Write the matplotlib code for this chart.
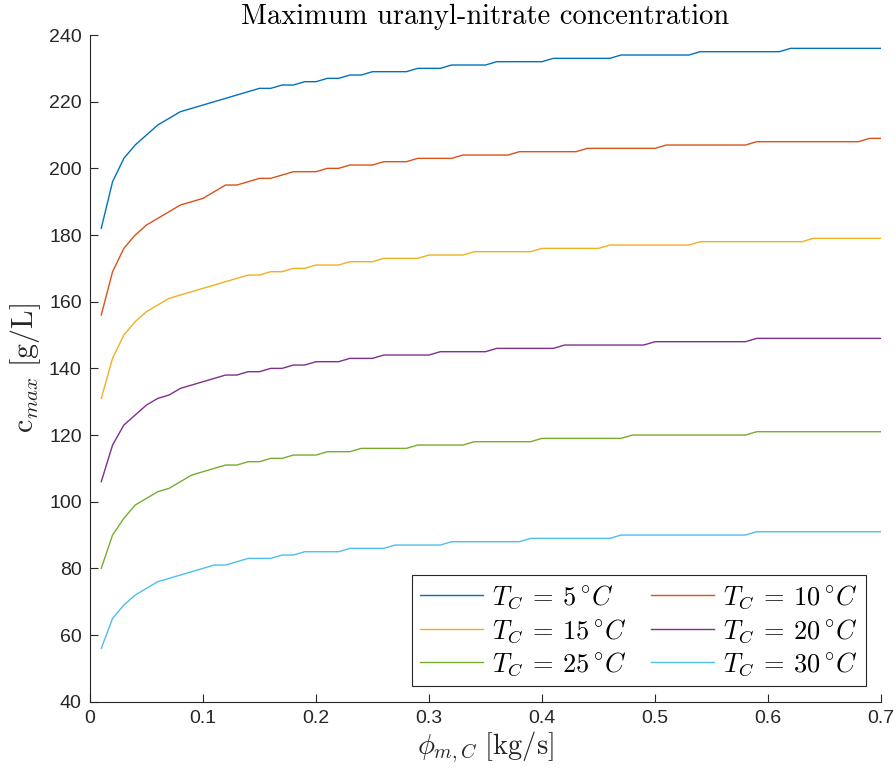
import numpy as np
import matplotlib
matplotlib.use("Agg")
import matplotlib.pyplot as plt

plt.rcParams['mathtext.fontset'] = 'cm'

# ---- data ----
flow = [round(0.01 * i, 2) for i in range(1, 71)]  # phi_{m,C} [kg/s]

temps = [5, 10, 15, 20, 25, 30]

c_5 = ([182, 196, 203, 207, 210, 213, 215, 217, 218, 219,
        220, 221, 222, 223, 224, 224, 225, 225, 226, 226,
        227, 227, 228, 228, 229, 229, 229, 229, 230, 230,
        230, 231, 231, 231, 231, 232, 232, 232, 232, 232]
       + [233] * 6 + [234] * 7 + [235] * 8 + [236] * 9)

c_10 = ([156, 169, 176, 180, 183, 185, 187, 189, 190, 191,
         193, 195, 195, 196, 197, 197, 198, 199, 199, 199,
         200, 200, 201, 201, 201, 202, 202, 202, 203, 203,
         203, 203]
        + [204] * 5 + [205] * 6 + [206] * 7 + [207] * 8 + [208] * 10 + [209] * 2)

c_15 = ([131, 143, 150, 154, 157, 159, 161, 162, 163, 164,
         165, 166, 167, 168, 168, 169, 169, 170, 170, 171,
         171, 171, 172, 172, 172]
        + [173] * 4 + [174] * 4 + [175] * 6 + [176] * 6 + [177] * 8 + [178] * 10 + [179] * 7)

c_20 = ([106, 117, 123, 126, 129, 131, 132, 134, 135, 136,
         137, 138, 138, 139, 139, 140, 140, 141, 141, 142,
         142, 142, 143, 143, 143]
        + [144] * 5 + [145] * 5 + [146] * 6 + [147] * 8 + [148] * 9 + [149] * 12)

c_25 = ([80, 90, 95, 99, 101, 103, 104, 106, 108, 109,
         110, 111, 111, 112, 112, 113, 113, 114, 114, 114,
         115, 115, 115]
        + [116] * 5 + [117] * 5 + [118] * 6 + [119] * 8 + [120] * 11 + [121] * 12)

c_30 = ([56, 65, 69, 72, 74, 76, 77, 78, 79, 80,
         81, 81, 82, 83, 83, 83, 84, 84, 85, 85,
         85, 85, 86, 86, 86, 86]
        + [87] * 5 + [88] * 7 + [89] * 8 + [90] * 12 + [91] * 12)

series = [c_5, c_10, c_15, c_20, c_25, c_30]

colors = [(0, 0.4470, 0.7410), (0.8500, 0.3250, 0.0980), (0.9290, 0.6940, 0.1250),
          (0.4940, 0.1840, 0.5560), (0.4660, 0.6740, 0.1880), (0.3010, 0.7450, 0.9330)]

xticks = [0, 0.1, 0.2, 0.3, 0.4, 0.5, 0.6, 0.7]
xticklabels = ['0', '0.1', '0.2', '0.3', '0.4', '0.5', '0.6', '0.7']
yticks = list(range(40, 241, 20))

# ---- figure ----
fig = plt.figure(figsize=(8.96, 7.73), dpi=100)
ax = fig.add_axes([0.1004, 0.0922, 0.8829, 0.8625])

handles = []
for T, c, col in zip(temps, series, colors):
    h, = ax.plot(flow, c, color=col, lw=1.0, label=r'$T_C\:=\:%d\,^{\circ}C$' % T)
    handles.append(h)

ax.set_xlim(0, 0.7)
ax.set_ylim(40, 240)
ax.set_xticks(xticks)
ax.set_xticklabels(xticklabels)
ax.set_yticks(yticks)

axcol = '#262626'
for s in ['top', 'right']:
    ax.spines[s].set_visible(False)
for s in ['left', 'bottom']:
    ax.spines[s].set_color(axcol)
    ax.spines[s].set_linewidth(0.8)
ax.tick_params(direction='in', length=6, width=0.8, color=axcol, labelcolor=axcol,
               labelsize=14, pad=6)
for lab in ax.get_xticklabels() + ax.get_yticklabels():
    lab.set_fontfamily('Liberation Sans')

ax.set_title('Maximum uranyl-nitrate concentration', fontfamily='cmr10', fontsize=20.5,
             pad=8)
ax.set_xlabel(r'$\phi_{m,C}\ \mathrm{[kg/s]}$', fontsize=20.5, labelpad=2, color=axcol)
ax.set_ylabel(r'$\mathrm{c}_{max}\ \mathrm{[g/L]}$', fontsize=21.5, labelpad=4, color=axcol)

# row-wise order like MATLAB: 5,10 / 15,20 / 25,30
order = [0, 2, 4, 1, 3, 5]
leg = ax.legend([handles[i] for i in order], [handles[i].get_label() for i in order],
                ncol=2, loc='lower right', bbox_to_anchor=(0.981, 0.0235),
                borderaxespad=0, fontsize=19, handlelength=2.4, handletextpad=0.35,
                columnspacing=0.9, labelspacing=0.22, fancybox=False, framealpha=1,
                edgecolor='#262626', borderpad=0.3)
leg.get_frame().set_linewidth(0.8)

fig.savefig('out.png', dpi=100)
